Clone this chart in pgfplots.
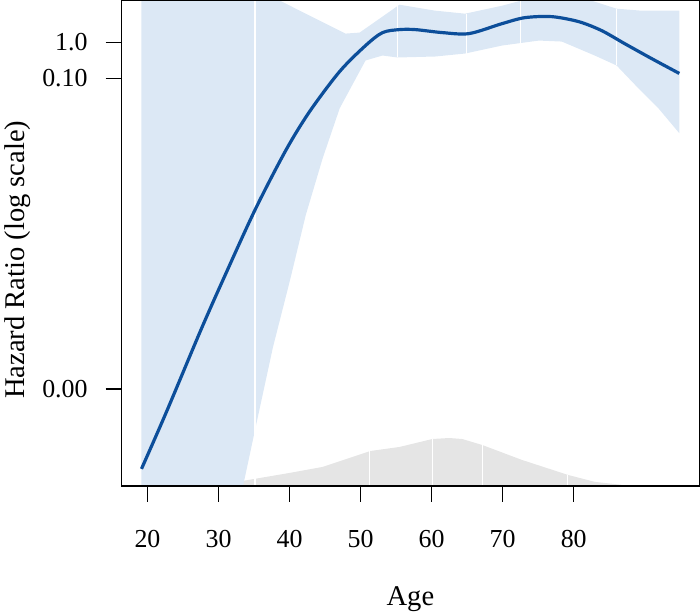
\documentclass[border=0pt]{standalone}
\usepackage{fontspec}
\setmainfont{Liberation Serif}
\usepackage{pgfplots}
\pgfplotsset{compat=1.18}
\definecolor{bandblue}{RGB}{220,232,245}
\definecolor{curveblue}{RGB}{12,78,154}
\definecolor{densgray}{RGB}{229,229,229}

\begin{document}
\begin{tikzpicture}
\begin{axis}[
  scale only axis,
  width=435pt, height=365.25pt,
  xmin=16.35, xmax=97.67, ymin=0, ymax=487,
  axis on top,
  axis line style={line width=1.1pt},
  xtick align=outside, ytick align=outside,
  xtick pos=bottom, ytick pos=left,
  major tick length=12pt,
  xtick style={draw=black, line width=1.1pt},
  ytick style={draw=black, line width=1.1pt},
  xtick={20,30,...,80},
  ytick={97,409,445},
  yticklabels={0.00,0.10,1.0},
  /pgf/number format/assume math mode=true,
  ticklabel style={font=\fontsize{19.5}{22}\selectfont},
  xticklabel style={yshift=-18pt},
  yticklabel style={xshift=-10pt},
  xlabel={Age},
  ylabel={Hazard Ratio (log scale)},
  label style={font=\fontsize{21.5}{24}\selectfont},
  xlabel style={at={(axis description cs:0.5,-0.246)}, anchor=base},
  ylabel style={at={(axis description cs:-0.1802,0.466)}, anchor=center},
]
% density of age (grey)
\addplot[fill=densgray, draw=none] coordinates {
  (31.78,0) (31.78,1) (33.46,5) (40.05,13) (44.67,19) (48.88,29) (51.40,35)
  (55.47,39) (60.10,47) (62.48,48) (64.30,47) (67.11,41) (72.71,26)
  (79.16,11) (82.95,4) (86.73,1) (86.73,0)} -- cycle;
% confidence band
\addplot[fill=bandblue, draw=none] coordinates {
  (19.16,560) (38.65,487) (43.69,469) (47.90,454) (49.86,455) (52.67,469)
  (55.47,483) (60.52,477) (64.72,474) (69.91,482) (72.57,487) (78.32,494)
  (82.53,487) (86.03,479) (89.54,477) (94.86,477)
  (94.86,354) (91.92,379) (89.11,399) (86.03,422) (82.95,432) (78.32,446)
  (75.10,447) (69.91,442) (64.72,434) (60.52,431) (55.19,430) (53.09,432)
  (50.70,427) (49.86,416) (47.06,379) (44.67,329) (42.29,272) (40.05,206)
  (37.66,139) (35.14,56) (33.46,0) (19.16,-100)} -- cycle;
% white seams
\addplot[white, line width=0.8pt] coordinates {(35.14,0) (35.14,487)};
\addplot[white, line width=0.8pt] coordinates {(55.19,430) (55.19,484)};
\addplot[white, line width=0.8pt] coordinates {(64.86,434) (64.86,474)};
\addplot[white, line width=0.8pt] coordinates {(72.57,443) (72.57,487)};
\addplot[white, line width=0.8pt] coordinates {(86.03,422) (86.03,479)};
\addplot[white, line width=0.8pt] coordinates {(51.26,0) (51.26,35)};
\addplot[white, line width=0.8pt] coordinates {(60.10,0) (60.10,47)};
\addplot[white, line width=0.8pt] coordinates {(67.11,0) (67.11,41)};
\addplot[white, line width=0.8pt] coordinates {(79.16,0) (79.16,11)};
% hazard ratio curve
\addplot[curveblue, line width=2.4pt, smooth, tension=0.5] coordinates {
  (19.16,17) (22.66,74) (27.43,155) (30.65,207) (35.14,277) (39.49,337)
  (42.85,376) (47.06,416) (50.70,442) (53.09,455) (55.47,458) (57.71,458)
  (61.50,455) (65.28,454) (69.91,464) (73.13,470) (76.92,471) (80.70,466)
  (83.93,457) (87.15,444) (90.94,429) (94.86,414)};
\end{axis}
\end{tikzpicture}
\end{document}
